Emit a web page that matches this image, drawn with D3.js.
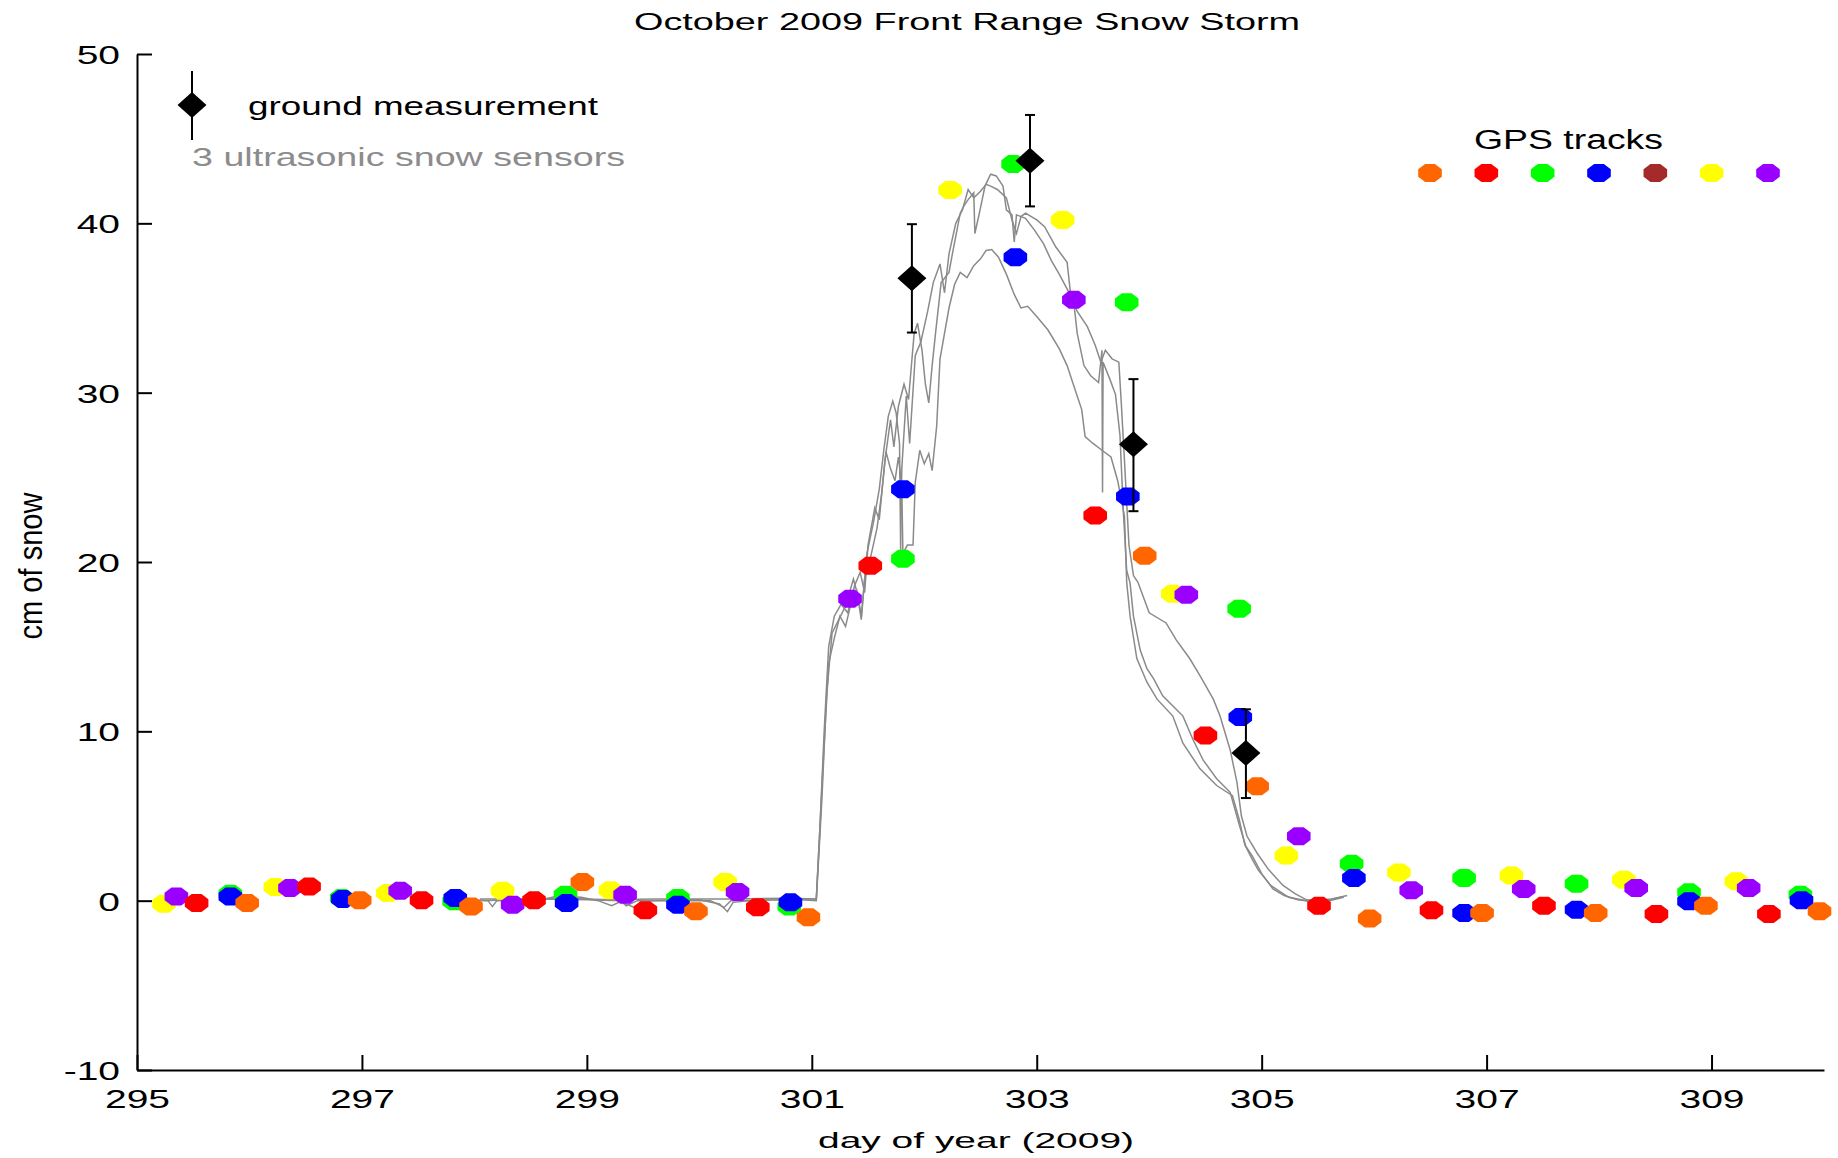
<!DOCTYPE html>
<html><head><meta charset="utf-8">
<script src="https://cdn.jsdelivr.net/npm/d3@7"></script>
<style>html,body{margin:0;padding:0;background:#fff;} svg{display:block;}</style>
</head><body>
<svg id="chart" width="1838" height="1158"></svg>
<script>
// ---------------- data ----------------
const xTicks = [295, 297, 299, 301, 303, 305, 307, 309];
const yTicks = [-10, 0, 10, 20, 30, 40, 50];
const trackNames  = ["orange", "red", "green", "blue", "brown", "yellow", "purple"];
const trackColors = ["#ff6600", "#ff0000", "#00ff00", "#0000ff", "#a52a2a", "#ffff00", "#9900ff"];

const orangeTrack = [[295.98,-0.14],[296.98,0.02],[297.97,-0.34],[298.96,1.1],[299.97,-0.63],[300.97,-0.98],[303.96,20.37],[304.96,6.75],[305.96,-1.06],[306.96,-0.73],[307.97,-0.73],[308.95,-0.3],[309.96,-0.63]];
const redTrack = [[295.53,-0.14],[296.53,0.84],[297.53,0.02],[298.53,0.02],[299.52,-0.57],[300.52,-0.39],[301.52,19.78],[303.52,22.75],[304.5,9.76],[305.51,-0.3],[306.51,-0.57],[307.51,-0.3],[308.51,-0.79],[309.51,-0.79]];
const greenTrack = [[295.83,0.41],[296.82,0.16],[297.82,-0.04],[298.81,0.35],[299.81,0.16],[300.8,-0.34],[301.81,20.19],[302.79,43.5],[303.8,35.34],[304.8,17.24],[305.8,2.18],[306.8,1.34],[307.8,1.0],[308.8,0.49],[309.79,0.35]];
const blueTrack = [[295.83,0.25],[296.83,0.1],[297.83,0.16],[298.82,-0.14],[299.81,-0.24],[300.81,-0.1],[301.81,24.3],[302.81,38.0],[303.81,23.87],[304.81,10.84],[305.82,1.34],[306.8,-0.73],[307.8,-0.53],[308.8,-0.04],[309.8,0.02]];
const brownTrack = [];
const yellowTrack = [[295.24,-0.18],[296.23,0.81],[297.23,0.45],[298.25,0.59],[299.21,0.61],[300.23,1.1],[302.23,41.97],[303.23,40.2],[304.21,18.12],[305.22,2.66],[306.22,1.67],[307.22,1.49],[308.22,1.24],[309.22,1.14]];
const purpleTrack = [[295.35,0.25],[296.36,0.75],[297.34,0.59],[298.34,-0.24],[299.34,0.35],[300.34,0.51],[301.34,17.83],[303.33,35.48],[304.33,18.06],[305.33,3.8],[306.33,0.61],[307.33,0.69],[308.33,0.75],[309.33,0.75]];

const groundDays = [301.89, 302.94, 303.86, 304.86];
const groundVals = [36.75, 43.7, 26.96, 8.72];
const groundLow  = [33.55, 41.0, 23.0, 6.06];
const groundHigh = [39.95, 46.4, 30.8, 11.3];

const sensorA = [[297.98,0.05],[298.12,0.0],[298.16,-0.35],[298.2,0.0],[298.6,0.05],[298.72,0.25],[298.95,0.2],[299.1,0.0],[299.22,-0.3],[299.3,-0.05],[299.42,-0.4],[299.5,0.0],[300.0,0.05],[300.18,-0.2],[300.25,-0.65],[300.3,-0.1],[300.6,0.1],[300.9,0.1],[301.04,0.1],
 [301.07,4],[301.11,10],[301.15,15],[301.2,16.8],[301.26,17.5],[301.32,17],[301.38,18.6],[301.43,19.4],[301.47,18.2],[301.5,21],[301.56,23.2],[301.6,22.5],[301.65,26],[301.7,28.4],[301.73,26.8],[301.77,29.2],[301.82,30.5],[301.86,29.6],[301.91,33.5],[301.94,34.1],[301.98,32.5],[302.01,30.5],[302.04,29.4],[302.07,31.6],[302.1,33.5],[302.15,36.5],[302.22,37.1],[302.25,38.2],[302.32,40.6],[302.35,41.0],[302.39,41.4],[302.44,41.8],[302.45,39.4],[302.49,40.6],[302.54,42.2],[302.59,42.9],[302.64,42.8],[302.7,42.2],[302.73,40.8],[302.78,40.5],[302.8,38.9],[302.82,40.5],[302.9,40.3],[302.98,39.6],[303.06,38.8],[303.13,37.8],[303.2,37.0],[303.28,36.0],[303.36,34.8],[303.45,33.9],[303.52,32.8],[303.57,31.8],[303.61,32.5],[303.67,32.0],[303.73,31.8],[303.75,29.6],[303.78,26.0],[303.82,21.0],[303.86,19.2],[303.9,18.8],[304.0,17.0],[304.15,16.4],[304.24,15.4],[304.36,14.3],[304.45,13.3],[304.57,11.9],[304.63,10.9],[304.72,8.9],[304.78,7.0],[304.82,5.0],[304.87,3.8],[304.96,2.8],[305.06,1.85],[305.19,0.9],[305.3,0.4],[305.4,0.05],[305.56,0.0],[305.66,0.15],[305.76,0.3]];

const sensorB = [[298.0,0.0],[298.4,0.05],[298.7,0.1],[299.0,0.05],[299.3,0.0],[299.35,-0.3],[299.45,0.0],[300.1,0.0],[300.22,-0.4],[300.28,0.0],[300.9,0.05],[301.04,0.0],
 [301.09,6],[301.13,12],[301.18,15.8],[301.24,16.6],[301.3,17.4],[301.37,19],[301.41,18],[301.44,16.8],[301.49,20.5],[301.55,22.4],[301.6,24.3],[301.64,26.6],[301.68,28.6],[301.72,29.5],[301.75,28.8],[301.78,27],[301.79,20.7],[301.8,25.5],[301.84,29.8],[301.87,27],[301.92,32.2],[301.97,33.0],[302.03,34.8],[302.08,36.5],[302.14,37.6],[302.18,35.9],[302.22,38.2],[302.28,40.0],[302.34,40.8],[302.39,42.0],[302.44,41.5],[302.5,41.9],[302.55,42.3],[302.59,42.2],[302.65,42.0],[302.73,41.5],[302.78,40.2],[302.82,39.4],[302.86,40.4],[302.9,40.6],[303.0,40.2],[303.07,39.8],[303.17,38.6],[303.27,37.7],[303.3,35.9],[303.33,35.3],[303.36,33.5],[303.42,31.6],[303.48,31.0],[303.55,30.6],[303.58,32.5],[303.585,24.1],[303.59,31.8],[303.65,30.8],[303.7,29.9],[303.74,27.5],[303.77,23.0],[303.8,19.5],[303.83,18.75],[303.86,16.8],[303.92,14.8],[303.98,13.7],[304.04,13.1],[304.12,12.1],[304.24,11.3],[304.3,10.9],[304.39,9.5],[304.48,8.3],[304.6,7.2],[304.72,6.4],[304.8,4.5],[304.86,3.2],[304.92,2.6],[305.0,1.6],[305.1,0.7],[305.2,0.3],[305.32,0.05],[305.45,-0.05],[305.6,0.0],[305.73,0.2]];

const sensorC = [[298.05,0.1],[298.5,0.1],[298.8,0.15],[299.2,0.05],[299.6,0.1],[300.3,0.1],[300.8,0.15],[301.04,0.1],
 [301.1,8],[301.15,14],[301.2,15.5],[301.25,16.8],[301.3,16.2],[301.35,17.6],[301.4,18.3],[301.44,16.6],[301.47,19],[301.52,20.2],[301.58,22],[301.62,24],[301.66,26.5],[301.7,25.5],[301.74,24.8],[301.77,26.2],[301.8,24.5],[301.81,20.5],[301.85,21.0],[301.9,21.0],[301.92,24.7],[301.96,26.6],[302.0,25.8],[302.04,26.4],[302.07,25.4],[302.11,28],[302.14,32],[302.18,33.5],[302.22,35.0],[302.27,36.4],[302.32,37.1],[302.38,36.8],[302.44,37.5],[302.5,37.9],[302.55,38.4],[302.6,38.45],[302.66,38.0],[302.73,37.0],[302.8,35.8],[302.86,35.0],[302.92,35.1],[303.0,34.5],[303.1,33.7],[303.2,32.6],[303.27,31.6],[303.35,30.0],[303.4,29.0],[303.43,27.4],[303.5,27.0],[303.58,26.6],[303.66,26.2],[303.72,24.8],[303.78,22.7],[303.8,18.8],[303.83,16.8],[303.89,14.3],[303.98,12.9],[304.07,11.9],[304.21,10.9],[304.3,9.3],[304.45,7.8],[304.6,6.8],[304.74,6.2],[304.8,4.8],[304.85,3.3],[304.92,2.4],[304.97,1.8],[305.08,0.9],[305.24,0.2],[305.4,0.0],[305.55,0.05],[305.62,0.1],[305.73,0.25]];

const sensors = [sensorA, sensorB, sensorC];
const tracks = [orangeTrack, redTrack, greenTrack, blueTrack, brownTrack, yellowTrack, purpleTrack];

// ---------------- drawing ----------------
const FONT = "'Liberation Sans', Arial, Helvetica, sans-serif";
const svg = d3.select("#chart");
const x = d3.scaleLinear().domain([295, 310]).range([137, 1824]);
const y = d3.scaleLinear().domain([-10, 50]).range([1070, 54]);

function octagon(rx, ry) {
  const k = Math.cos(Math.PI / 8), pts = [];
  for (let i = 0; i < 8; i++) {
    const a = (22.5 + 45 * i) * Math.PI / 180;
    pts.push([(rx * Math.cos(a) / k).toFixed(2), (ry * Math.sin(a) / k).toFixed(2)]);
  }
  return "M" + pts.map(p => p.join(",")).join("L") + "Z";
}
const dotPath = octagon(11.8, 9);
const diamondPath = "M0,-13L14.5,0L0,13L-14.5,0Z";

// sensor traces
const line = d3.line().x(d => x(d[0])).y(d => y(d[1]));
svg.append("g").selectAll("path").data(sensors).join("path")
  .attr("d", line).attr("fill", "none").attr("stroke", "#8a8a8a").attr("stroke-width", 1.5);

// GPS dots, drawn in time order
const allDots = tracks.flatMap((t, i) => t.map(p => ({ day: p[0], v: p[1], c: trackColors[i] })))
  .sort((a, b) => a.day - b.day);
svg.append("g").selectAll("path").data(allDots).join("path")
  .attr("d", dotPath).attr("fill", d => d.c)
  .attr("transform", d => `translate(${x(d.day)},${y(d.v)})`);

// ground measurements
const gm = groundDays.map((d, i) => ({ day: d, v: groundVals[i], lo: groundLow[i], hi: groundHigh[i] }));
const gg = svg.append("g");
gg.selectAll("line.bar").data(gm).join("line").attr("class", "bar")
  .attr("x1", d => x(d.day)).attr("x2", d => x(d.day)).attr("y1", d => y(d.lo)).attr("y2", d => y(d.hi))
  .attr("stroke", "#000").attr("stroke-width", 2);
gg.selectAll("line.capl").data(gm).join("line").attr("class", "capl")
  .attr("x1", d => x(d.day) - 5).attr("x2", d => x(d.day) + 5).attr("y1", d => y(d.lo)).attr("y2", d => y(d.lo))
  .attr("stroke", "#000").attr("stroke-width", 2);
gg.selectAll("line.caph").data(gm).join("line").attr("class", "caph")
  .attr("x1", d => x(d.day) - 5).attr("x2", d => x(d.day) + 5).attr("y1", d => y(d.hi)).attr("y2", d => y(d.hi))
  .attr("stroke", "#000").attr("stroke-width", 2);
gg.selectAll("path").data(gm).join("path").attr("d", diamondPath).attr("fill", "#000")
  .attr("transform", d => `translate(${x(d.day)},${y(d.v)})`);

// axes
const gx = svg.append("g").attr("transform", `translate(0,${y(-10)})`)
  .call(d3.axisBottom(x).tickValues(xTicks).tickSizeInner(-15).tickSizeOuter(0).tickFormat(d => String(d)));
const gy = svg.append("g").attr("transform", `translate(${x(295)},0)`)
  .call(d3.axisLeft(y).tickValues(yTicks).tickSizeInner(-15).tickSizeOuter(0).tickFormat(d => String(d)));
[gx, gy].forEach(g => {
  g.attr("font-family", FONT).attr("font-size", 26);
  g.select(".domain").attr("stroke", "#000").attr("stroke-width", 2);
  g.selectAll(".tick line").attr("stroke", "#000").attr("stroke-width", 2);
  g.selectAll(".tick text").attr("fill", "#000");
});
gx.selectAll(".tick text").attr("y", 38).attr("dy", 0).attr("transform", "scale(1.5,1)");
gy.selectAll(".tick text").attr("x", -11.3).attr("dy", "0.36em").attr("transform", "scale(1.5,1)");

// texts
function txt(str, xx, yy, size, len, fill) {
  return svg.append("text").attr("x", xx).attr("y", yy).attr("font-family", FONT)
    .attr("font-size", size).attr("fill", fill || "#000")
    .attr("textLength", len).attr("lengthAdjust", "spacingAndGlyphs").text(str);
}
txt("October 2009 Front Range Snow Storm", 634, 30, 23, 666);
txt("day of year (2009)", 818, 1148, 22, 316);
svg.append("text").attr("transform", "translate(42,566) scale(1.5,1) rotate(-90)")
  .attr("text-anchor", "middle").attr("font-family", FONT).attr("font-size", 22)
  .attr("textLength", 147).attr("lengthAdjust", "spacingAndGlyphs").text("cm of snow");

// legend: ground measurement
svg.append("line").attr("x1", 192).attr("x2", 192).attr("y1", 71).attr("y2", 140)
  .attr("stroke", "#000").attr("stroke-width", 2);
svg.append("path").attr("d", diamondPath).attr("transform", "translate(192,105)").attr("fill", "#000");
txt("ground measurement", 248, 115, 26, 350);
txt("3 ultrasonic snow sensors", 192, 166, 25, 433, "#8c8c8c");

// legend: GPS tracks
txt("GPS tracks", 1474, 149, 27, 189);
const legX = d3.scaleLinear().domain([0, trackNames.length - 1]).range([1430, 1768]);
svg.append("g").selectAll("path").data(trackColors).join("path")
  .attr("d", dotPath).attr("fill", d => d)
  .attr("transform", (d, i) => `translate(${legX(i)},173)`);
</script>
</body></html>
